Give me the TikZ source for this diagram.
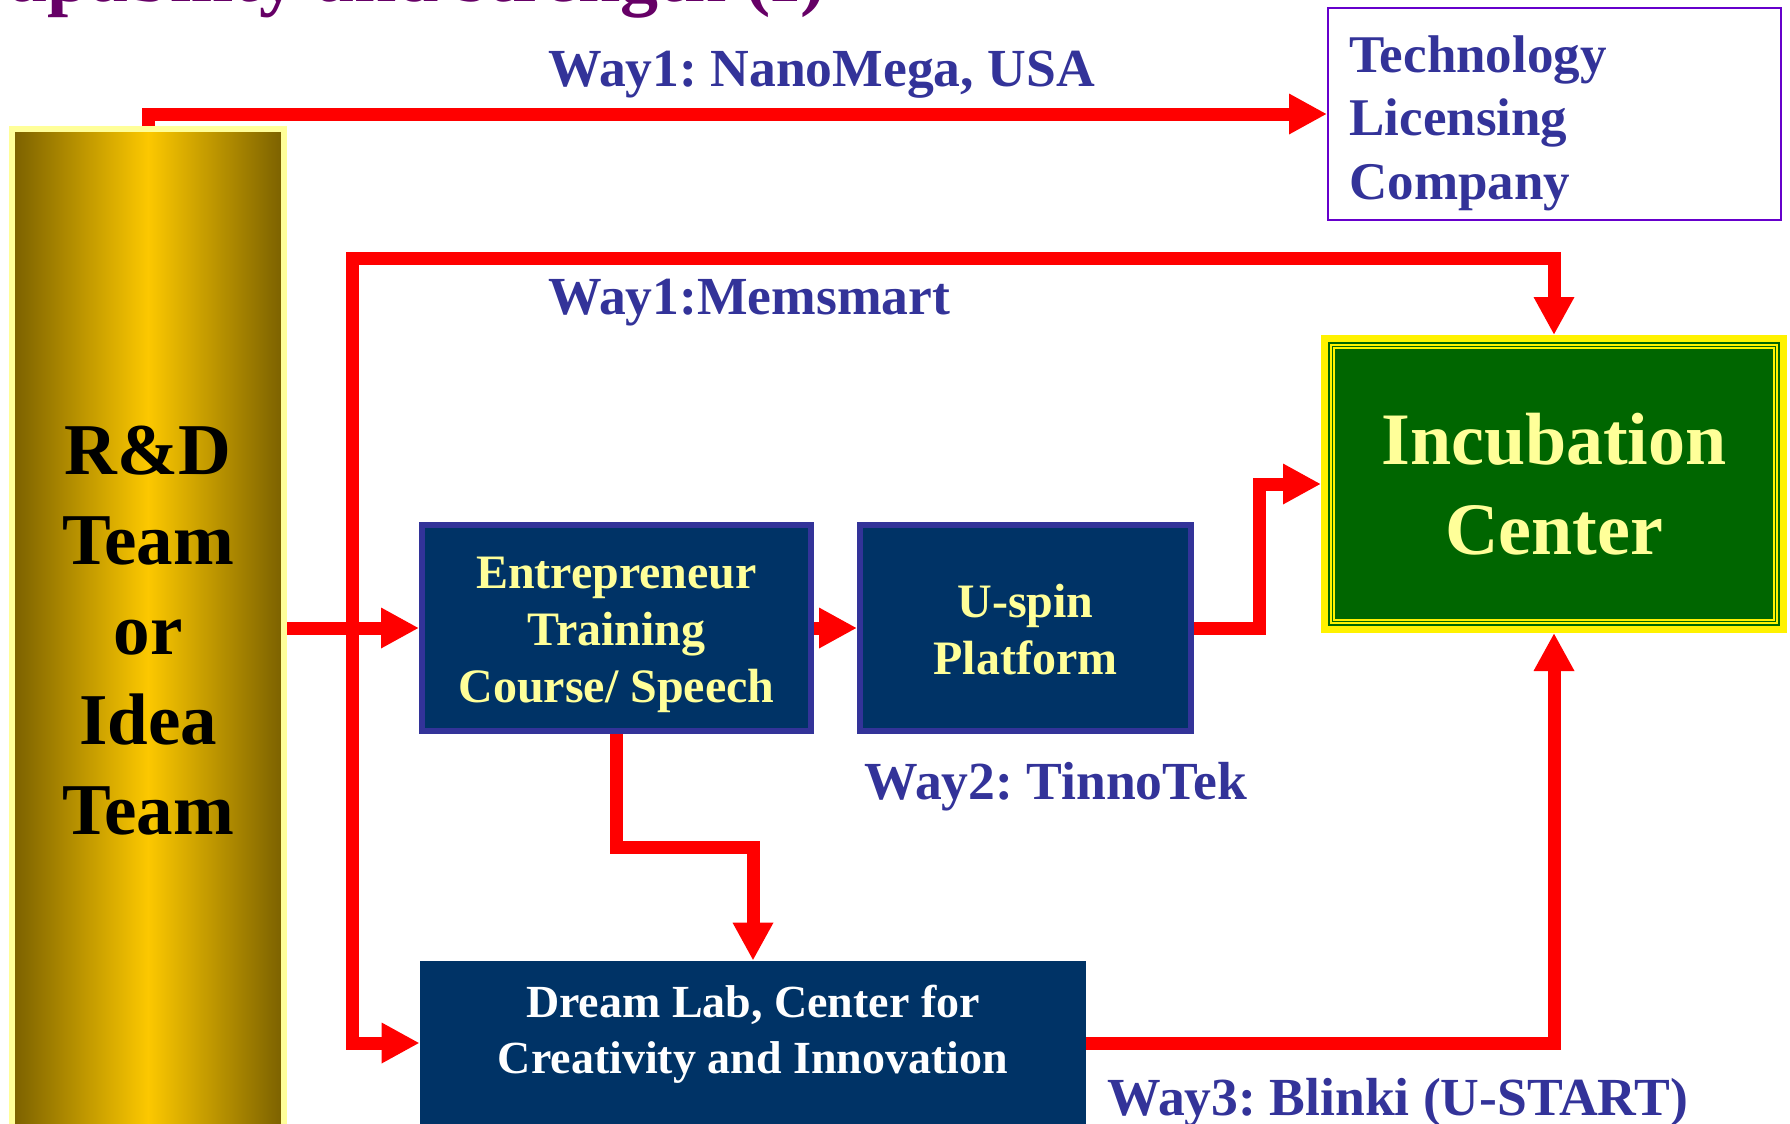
\documentclass[tikz,border=0pt]{standalone}
\usepackage{fontspec}
\setmainfont{Liberation Serif}
\usetikzlibrary{arrows.meta}
\definecolor{wayblue}{HTML}{333399}
\definecolor{navybox}{HTML}{003366}
\definecolor{paleyel}{HTML}{FFFF99}
\definecolor{incgreen}{HTML}{006600}
\definecolor{tlcpurple}{HTML}{6600CC}
\definecolor{titlepurple}{HTML}{660066}
\definecolor{golddark}{RGB}{122,96,0}
\definecolor{goldmid}{RGB}{252,200,0}
\frenchspacing
\begin{document}
\begin{tikzpicture}[x=0.5pt,y=-0.5pt,
  arr/.style={draw=red, line width=6.5pt, -{Triangle[length=19pt,width=19pt]}},
  arrboth/.style={draw=red, line width=6.5pt, {Triangle[length=19pt,width=19pt]}-{Triangle[length=19pt,width=19pt]}},
  waylabel/.style={inner sep=0pt, anchor=base west, text=wayblue, font={\fontsize{26.8}{31.5}\selectfont\bfseries}},
  darkbox/.style={fill=navybox, draw=wayblue, line width=3pt, inner sep=0pt, minimum height=103pt},
  boxtext/.style={inner sep=0pt, align=center, text=paleyel, font={\fontsize{24}{28.5}\selectfont\bfseries}}
]
\useasboundingbox (0,0) rectangle (1790,1124);

% title (cut off at top)
\node[inner sep=0pt, anchor=base east, text=titlepurple, font={\fontsize{38}{44}\selectfont\bfseries}] (title) at (826,1.5) {Capability and strength (I)};

% R&D column
\node[draw=paleyel, line width=3pt, left color=golddark, right color=golddark, middle color=goldmid,
      minimum width=136pt, minimum height=502pt, inner sep=0pt, align=center,
      font={\fontsize{36.5}{45}\selectfont\bfseries}] (rd) at (148,631) {R\&D\\Team\\or\\Idea\\Team};

% Technology Licensing Company
\node[draw=tlcpurple, line width=1pt, minimum width=226.5pt, minimum height=106pt, inner sep=0pt] (tlc) at (1554.5,114) {};
\node[inner sep=0pt, anchor=north west, align=left, text=wayblue, font={\fontsize{26.5}{31.75}\selectfont\bfseries}] (tlctext) at (1349,35) {Technology\\Licensing\\Company};

% Incubation Center
\node[draw=yellow, line width=3.5pt, fill=incgreen, minimum width=229.5pt, minimum height=145.5pt, inner sep=0pt,
      align=center, text=paleyel, font={\fontsize{37}{45}\selectfont\bfseries}] (inc) at (1554,484) {Incubation\\Center};
\draw[yellow, line width=0.6pt] ([shift={(10,10)}]inc.north west) rectangle ([shift={(-10,-10)}]inc.south east);
\draw[yellow, line width=0.6pt] ([shift={(13,13)}]inc.north west) rectangle ([shift={(-13,-13)}]inc.south east);

% middle boxes
\node[darkbox, minimum width=194.5pt] (ent) at (616.5,628) {};
\node[boxtext] (enttext) at ([yshift=-3.5pt]ent.center) {Entrepreneur\\Training\\Course/ Speech};
\node[darkbox, minimum width=165.5pt] (usp) at (1025.5,628) {};
\node[boxtext] (usptext) at ([yshift=-1pt]usp.center) {U-spin\\Platform};
\node[fill=navybox, inner sep=0pt, minimum width=333pt, minimum height=82pt] (dl) at (753,1043) {};
\node[inner sep=0pt, align=center, text=white, font={\fontsize{23}{28}\selectfont\bfseries}] (dltext) at ([yshift=4.5pt]dl.center) {Dream Lab, Center for\\Creativity and Innovation};

% labels
\node[waylabel] (w1a) at (548,86) {Way1: NanoMega, USA};
\node[waylabel] (w1b) at (548,314) {Way1:Memsmart};
\node[waylabel] (w2) at (864,799) {Way2: TinnoTek};
\node[waylabel] (w3) at (1107,1115) {Way3: Blinki (U-START)};

% helper coordinates
\coordinate (m1) at (352,258);
\coordinate (c1) at (1259,0);
\coordinate (c3) at (0,847);

% connectors
\draw[arr] (rd.north) |- (tlc.west);
\draw[arrboth] (dl.west) -| (m1) -| (inc.north);
\draw[arr] (ent.west -| rd.east) -- (ent.west);
\draw[arr] (ent.east) -- (usp.west);
\draw[arr] (usp.east) -| (c1 |- inc.west) -- (inc.west);
\draw[arr] (ent.south) -- (ent.south |- c3) -| (dl.north);
\draw[arr] (dl.east) -| (inc.south);
\end{tikzpicture}
\end{document}
